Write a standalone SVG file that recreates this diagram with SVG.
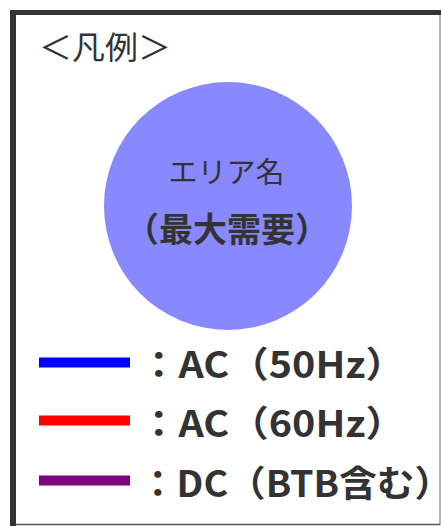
<svg xmlns="http://www.w3.org/2000/svg" width="441" height="526" viewBox="0 0 441 526">
<style>
.t{font-family:"Noto Sans CJK JP","Noto Sans",sans-serif;fill:#333}
.b{font-weight:bold}
.ln{stroke-width:10;fill:none}
</style>
<rect x="0" y="0" width="441" height="526" fill="#fff"/>
<g id="frame">
<line x1="440" y1="13" x2="440" y2="525" stroke="#999" stroke-width="1.5"/>
<line x1="13" y1="524.5" x2="440" y2="524.5" stroke="#555" stroke-width="1.5"/>
<line x1="13" y1="10" x2="13" y2="526" stroke="#333" stroke-width="6"/>
<line x1="10" y1="12.5" x2="441" y2="12.5" stroke="#333" stroke-width="5"/>
</g>
<g id="title"><text class="t" x="39" y="59" font-size="32" textLength="132" lengthAdjust="spacingAndGlyphs">＜凡例＞</text></g>
<g id="area">
<circle cx="228" cy="206" r="124" fill="#8888ff"/>
<text class="t" x="226.5" y="183" font-size="29" text-anchor="middle">エリア名</text>
<text class="t b" x="227" y="242" font-size="34" text-anchor="middle">（最大需要）</text>
</g>
<g id="connectors">
<line class="ln" x1="39" y1="362.5" x2="130" y2="362.5" stroke="#0000ff"/>
<line class="ln" x1="39" y1="420.5" x2="130" y2="420.5" stroke="#ff0000"/>
<line class="ln" x1="39" y1="480.5" x2="130" y2="480.5" stroke="#800080"/>
</g>
<g id="labels">
<text class="t b" x="139" y="378" font-size="36" textLength="266" lengthAdjust="spacingAndGlyphs">：AC（50Hz）</text>
<text class="t b" x="139" y="437" font-size="36" textLength="266" lengthAdjust="spacingAndGlyphs">：AC（60Hz）</text>
<text class="t b" x="139" y="497" font-size="36" textLength="313" lengthAdjust="spacingAndGlyphs">：DC（BTB含む）</text>
</g>
</svg>
